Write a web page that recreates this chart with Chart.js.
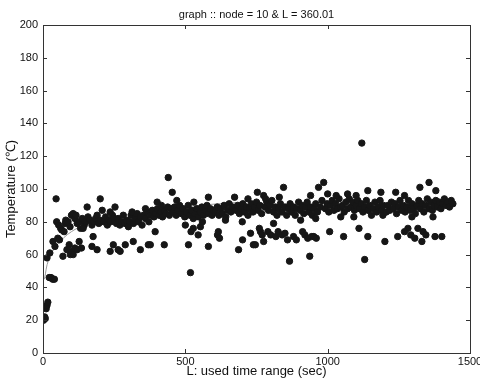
<!DOCTYPE html>
<html>
<head>
<meta charset="utf-8">
<script src="https://cdn.jsdelivr.net/npm/chart.js@4"></script>
<style>
  html, body { margin: 0; padding: 0; background: #fff; }
  #wrap { width: 480px; height: 378px; }
</style>
</head>
<body>
<div id="wrap"><canvas id="chart" width="480" height="378"></canvas></div>
<script>
const chartTitle = 'graph :: node = 10 & L = 360.01';
const xTicks = [0, 500, 1000, 1500];
const yTicks = [0, 20, 40, 60, 80, 100, 120, 140, 160, 180, 200];

const timeSec = [
  2, 4, 6, 8, 11, 14, 17, 22, 28, 34, 40, 14, 24, 35, 42, 46, 48, 52, 55, 58, 62, 66, 70, 74, 78,
  80, 88, 95, 100, 106, 112, 116, 120, 127, 132, 138, 145, 150, 84, 96, 102, 106, 112, 120, 127, 135, 92, 141, 155,
  158, 165, 172, 178, 185, 190, 196, 201, 208, 214, 220, 226, 232, 238, 244, 250, 253, 258, 264, 270, 276, 282, 288, 294, 300,
  201, 236, 176, 172, 190, 236, 247, 264, 271, 289,
  305, 310, 313, 318, 324, 331, 336, 342, 348, 354, 360, 366, 372, 378, 384, 390, 396, 402, 408, 414, 420, 426, 432, 438, 444, 450,
  401, 440, 454, 416, 360, 317, 342, 370, 377, 394, 426,
  456, 462, 468, 474, 480, 486, 492, 498, 504, 510, 516, 522, 528, 534, 540, 546, 552, 558, 564, 570, 576, 582, 588, 594, 600,
  500, 511, 518, 528, 553, 560, 581, 520, 545, 581, 470, 530,
  606, 612, 618, 624, 630, 636, 642, 648, 654, 660, 666, 673, 678, 684, 690, 696, 702, 708, 714, 720, 726, 732, 738, 744, 750,
  613, 620, 641, 687, 701, 729, 739, 616, 746, 700, 753, 720,
  756, 762, 768, 775, 780, 786, 792, 798, 804, 810, 816, 822, 828, 834, 840, 845, 850, 856, 862, 868, 874, 880, 886, 892, 898,
  764, 775, 790, 800, 810, 818, 826, 840, 859, 866, 880, 890, 760, 850, 770, 782, 830,
  904, 910, 916, 922, 928, 934, 940, 946, 952, 958, 964, 968, 974, 980, 986, 992, 998, 1004, 1010, 1016, 1022, 1028, 1034, 1040, 1046,
  905, 912, 920, 930, 937, 944, 951, 958, 1007, 1046, 960, 940, 1000, 1030,
  1052, 1058, 1064, 1070, 1076, 1082, 1088, 1094, 1100, 1106, 1112, 1118, 1124, 1130, 1136, 1142, 1148, 1154, 1160, 1166, 1172, 1178, 1184, 1190, 1196,
  1056, 1092, 1141, 1201, 1194, 1130, 1110, 1120, 1141, 1187, 1070, 1100,
  1206, 1212, 1218, 1224, 1230, 1236, 1242, 1248, 1254, 1260, 1266, 1272, 1278, 1284, 1290, 1296, 1302, 1308, 1314, 1320,
  1326, 1332, 1338, 1344, 1350, 1356, 1362, 1368, 1374, 1380, 1386, 1392, 1398, 1404, 1410, 1416, 1422, 1428, 1434, 1440,
  1246, 1282, 1292, 1296, 1317, 1335, 1331, 1345, 1370, 1377, 1401, 1270, 1306, 1239, 1324, 1356, 1380, 1270
];
const tempC = [
  20, 21, 22, 21, 27, 29, 31, 46, 46, 45, 45, 58, 61, 68, 65, 94, 80, 70, 78, 69, 76, 75, 59, 74, 79,
  81, 80, 77, 84, 85, 82, 84, 79, 80, 76, 82, 78, 80, 63, 60, 62, 60, 64, 63, 68, 64, 66, 76, 89,
  83, 81, 78, 80, 82, 84, 79, 81, 87, 80, 83, 78, 81, 80, 84, 82, 89, 79, 82, 78, 80, 84, 79, 81, 77,
  94, 86, 71, 65, 63, 62, 66, 63, 62, 66,
  80, 84, 86, 79, 82, 85, 80, 83, 78, 84, 82, 86, 80, 84, 87, 83, 85, 88, 84, 86, 83, 87, 85, 89, 84, 88,
  92, 107, 98, 90, 88, 68, 63, 66, 66, 74, 66,
  86, 89, 84, 87, 90, 85, 88, 83, 86, 90, 84, 87, 82, 85, 88, 83, 86, 89, 84, 87, 90, 85, 88, 84, 87,
  78, 66, 49, 76, 77, 80, 65, 74, 72, 95, 93, 92,
  86, 89, 84, 88, 85, 90, 83, 87, 91, 86, 89, 95, 87, 90, 85, 88, 91, 86, 89, 84, 88, 91, 86, 89, 92,
  72, 70, 81, 63, 69, 73, 66, 74, 66, 80, 98, 94,
  87, 90, 85, 96, 89, 92, 87, 90, 93, 86, 89, 84, 88, 91, 86, 101, 89, 84, 88, 91, 86, 89, 84, 88, 92,
  74, 68, 74, 72, 79, 71, 74, 72, 69, 56, 71, 69, 76, 73, 72, 94, 95,
  87, 90, 85, 89, 92, 86, 89, 84, 88, 91, 86, 101, 89, 93, 104, 88, 91, 86, 90, 93, 87, 91, 88, 94, 89,
  81, 74, 72, 70, 59, 71, 71, 82, 74, 83, 70, 96, 97, 96,
  90, 86, 92, 88, 94, 89, 92, 87, 90, 93, 88, 91, 86, 89, 93, 87, 90, 84, 88, 92, 86, 89, 93, 87, 90,
  71, 83, 71, 68, 84, 57, 76, 128, 99, 98, 97, 96,
  86, 90, 87, 92, 88, 91, 85, 89, 93, 87, 90, 86, 89, 93, 87, 91, 88, 85, 90, 93,
  88, 91, 86, 90, 94, 88, 92, 87, 90, 93, 89, 92, 88, 91, 94, 90, 92, 89, 93, 91,
  71, 76, 72, 83, 76, 74, 68, 72, 83, 71, 71, 74, 70, 98, 101, 104, 99, 96
];

// faint fitted trend line
const fitX = [5, 20, 50, 100, 150, 250, 400, 550, 700];
const fitY = [45, 57, 66, 74, 78, 83, 87, 90, 92];

const points = timeSec.map((t, i) => ({ x: t, y: tempC[i] }));
const fitPoints = fitX.map((t, i) => ({ x: t, y: fitY[i] }));

// matlab style box with inward ticks + title over the plot area
const boxPlugin = {
  id: 'boxPlugin',
  afterDraw(chart) {
    const { ctx, chartArea: a, scales } = chart;
    ctx.save();
    ctx.strokeStyle = '#333';
    ctx.lineWidth = 1;
    ctx.strokeRect(a.left + 0.5, a.top + 0.5, a.right - a.left, a.bottom - a.top);
    ctx.beginPath();
    yTicks.forEach(v => {
      const y = Math.round(scales.y.getPixelForValue(v)) + 0.5;
      ctx.moveTo(a.left, y); ctx.lineTo(a.left + 4, y);
      ctx.moveTo(a.right, y); ctx.lineTo(a.right - 4, y);
    });
    xTicks.forEach(v => {
      const x = Math.round(scales.x.getPixelForValue(v)) + 0.5;
      ctx.moveTo(x, a.bottom); ctx.lineTo(x, a.bottom - 4);
      ctx.moveTo(x, a.top); ctx.lineTo(x, a.top + 4);
    });
    ctx.stroke();
    ctx.fillStyle = '#111';
    ctx.font = '11px "Liberation Sans", Arial, sans-serif';
    ctx.textAlign = 'center';
    ctx.textBaseline = 'middle';
    ctx.fillText(chartTitle, (a.left + a.right) / 2, 15);
    ctx.restore();
  }
};

new Chart(document.getElementById('chart'), {
  type: 'scatter',
  data: {
    datasets: [
      {
        type: 'line',
        data: fitPoints,
        borderColor: '#999',
        borderWidth: 1,
        pointRadius: 0,
        tension: 0.4,
        order: 2
      },
      {
        data: points,
        backgroundColor: '#161616',
        borderColor: '#161616',
        pointRadius: 3.2,
        order: 1
      }
    ]
  },
  options: {
    responsive: false,
    animation: false,
    layout: { padding: { top: 25, right: 0, left: 0, bottom: 0 } },
    plugins: { legend: { display: false }, tooltip: { enabled: false } },
    scales: {
      x: {
        type: 'linear',
        min: 0, max: 1500,
        afterBuildTicks: s => { s.ticks = xTicks.map(v => ({ value: v })); },
        afterFit: s => { s.height = 25; s.paddingRight = 10; s.paddingLeft = 0; },
        grid: { display: false, drawTicks: false },
        border: { display: false },
        ticks: {
          padding: 2, color: '#111', maxRotation: 0,
          callback: v => String(v),
          font: { family: '"Liberation Sans", Arial', size: 11 }
        },
        title: {
          display: true, text: 'L: used time range (sec)', color: '#111',
          padding: { top: 0, bottom: 0 },
          font: { family: '"Liberation Sans", Arial', size: 13, lineHeight: 1 }
        }
      },
      y: {
        min: 0, max: 200,
        afterBuildTicks: s => { s.ticks = yTicks.map(v => ({ value: v })); },
        afterFit: s => { s.width = 43; s.paddingTop = 0; s.paddingBottom = 0; },
        grid: { display: false, drawTicks: false },
        border: { display: false },
        ticks: { padding: 5, color: '#111', font: { family: '"Liberation Sans", Arial', size: 11 } },
        title: {
          display: true, text: 'Temperature (℃)', color: '#111',
          padding: { top: 4, bottom: 0 },
          font: { family: '"Liberation Sans", Arial', size: 13 }
        }
      }
    }
  },
  plugins: [boxPlugin]
});
</script>
</body>
</html>
